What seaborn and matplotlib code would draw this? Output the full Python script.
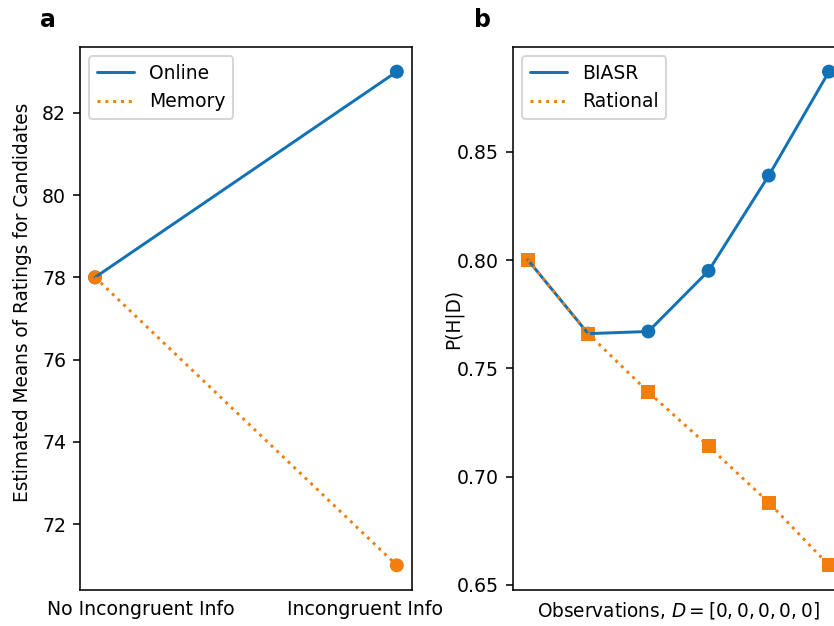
import matplotlib
matplotlib.use("Agg")
import matplotlib.pyplot as plt
import seaborn as sns

sns.set_style("ticks", rc={"axes.edgecolor": "black", "text.color": "black",
                           "axes.labelcolor": "black", "xtick.color": "black",
                           "ytick.color": "black"})
plt.rcParams['font.family'] = ['DejaVu Sans']
plt.rcParams['xtick.labelsize'] = 9.6
plt.rcParams['ytick.labelsize'] = 9.6
plt.rcParams['axes.labelsize'] = 9.4
plt.rcParams['legend.fontsize'] = 9.5

# Panel a data
conditions = ["No Incongruent Info", "Incongruent Info"]
online = [78, 83]
memory = [78, 71]

# Panel b data
steps = [0, 1, 2, 3, 4, 5]
biasr = [0.800, 0.766, 0.767, 0.795, 0.839, 0.887]
rational = [0.800, 0.766, 0.739, 0.714, 0.688, 0.659]

blue = "#1372b6"
orange = "#f27e0c"

dpi = 142
fig = plt.figure(figsize=(834 / dpi, 626 / dpi), dpi=dpi)
ax_a = fig.add_axes([0.0959, 0.0575, 0.398, 0.8675])
ax_b = fig.add_axes([0.615, 0.0575, 0.397, 0.8675])

# ---- panel a ----
xa = [0, 1]
sns.scatterplot(x=xa, y=online, ax=ax_a, color=blue, marker="o", s=50,
                edgecolor="none", legend=False)
sns.scatterplot(x=xa, y=memory, ax=ax_a, color=orange, marker="o", s=50,
                edgecolor="none", legend=False)
sns.lineplot(x=xa, y=online, ax=ax_a, color=blue, linestyle="-", label="Online")
sns.lineplot(x=xa, y=memory, ax=ax_a, color=orange, linestyle=":", label="Memory")
# category labels sit off the points in the original, without tick marks
ax_a.set_xticks([0.15, 0.895])
ax_a.set_xticklabels(conditions)
ax_a.tick_params(axis="x", length=0, pad=5)
ax_a.set_xlim(-0.05, 1.05)
ax_a.set_yticks([72, 74, 76, 78, 80, 82])
ax_a.set_ylabel("Estimated Means of Ratings for Candidates")
ax_a.yaxis.set_label_coords(-0.145, 0.53)
ax_a.legend(loc="upper left")

# ---- panel b ----
sns.scatterplot(x=steps, y=biasr, ax=ax_b, color=blue, marker="o", s=50,
                edgecolor="none", legend=False)
sns.scatterplot(x=steps, y=rational, ax=ax_b, color=orange, marker="s", s=50,
                edgecolor="none", legend=False)
sns.lineplot(x=steps, y=biasr, ax=ax_b, color=blue, linestyle="-", label="BIASR")
sns.lineplot(x=steps, y=rational, ax=ax_b, color=orange, linestyle=":", label="Rational")
ax_b.set_xticks([])
ax_b.set_yticks([0.65, 0.70, 0.75, 0.80, 0.85])
ax_b.set_xlabel(r"Observations, $D = [0, 0, 0, 0, 0]$", labelpad=5)
ax_b.set_ylabel("P(H|D)")
ax_b.yaxis.set_label_coords(-0.151, 0.5)
ax_b.legend(loc="upper left")

for ax in (ax_a, ax_b):
    for sp in ax.spines.values():
        sp.set_visible(True)

fig.text(0.057, 0.968, "a", fontsize=12, fontweight="bold", ha="center", va="center")
fig.text(0.579, 0.968, "b", fontsize=12, fontweight="bold", ha="center", va="center")

fig.savefig("out.png", dpi=dpi)
